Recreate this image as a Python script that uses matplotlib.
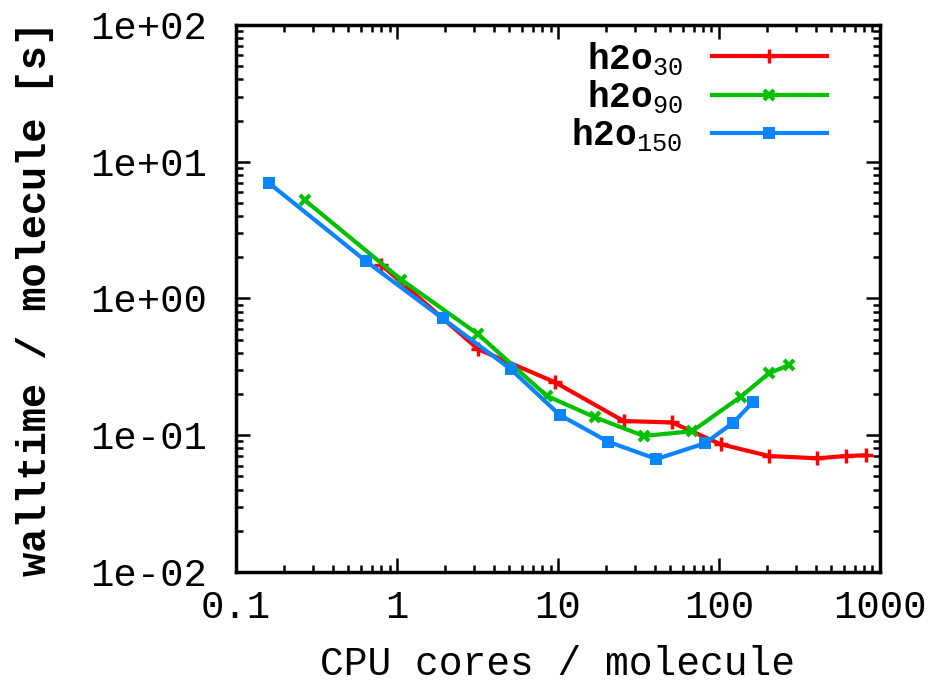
import matplotlib
matplotlib.use("Agg")
import matplotlib.pyplot as plt
from matplotlib.ticker import FixedLocator, FuncFormatter, LogLocator, NullFormatter

plt.rcParams['font.family'] = ['Liberation Mono', 'DejaVu Sans']
plt.rcParams['mathtext.fontset'] = 'custom'
plt.rcParams['mathtext.rm'] = 'Liberation Mono'
plt.rcParams['mathtext.bf'] = 'Liberation Mono:bold'

# CPU cores per molecule
x_30 = [0.8, 3.2, 9.6, 25.6, 51.2, 102.4, 204.8, 409.6, 614.4, 819.2]
x_90 = [0.267, 1.067, 3.2, 8.53, 17.07, 34.13, 68.27, 136.5, 204.8, 273.1]
x_150 = [0.16, 0.64, 1.92, 5.12, 10.24, 20.48, 40.96, 81.92, 122.88, 163.84]

# walltime per molecule [s]
t_30 = [1.76, 0.425, 0.244, 0.127, 0.124, 0.086, 0.0705, 0.0678, 0.0705, 0.0713]
t_90 = [5.25, 1.37, 0.547, 0.194, 0.135, 0.0988, 0.107, 0.191, 0.284, 0.326]
t_150 = [7.0, 1.88, 0.716, 0.303, 0.141, 0.0897, 0.067, 0.0873, 0.1236, 0.176]

x_ticks = [0.1, 1, 10, 100, 1000]
x_tick_labels = ['0.1', '1', '10', '100', '1000']
y_ticks = [0.01, 0.1, 1, 10, 100]
y_tick_labels = ['1e-02', '1e-01', '1e+00', '1e+01', '1e+02']

fig = plt.figure(figsize=(9.4, 6.85), dpi=100)
ax = fig.add_axes([0.251, 0.165, 0.685, 0.7985])

ax.plot(x_30, t_30, color='#ff0000', lw=3, marker='+', ms=10, mew=2.5,
        label=r'$\mathbf{h2o}_{\mathrm{30}}$')
ax.plot(x_90, t_90, color='#00c000', lw=3, marker='x', ms=7, mew=3,
        label=r'$\mathbf{h2o}_{\mathrm{90}}$')
ax.plot(x_150, t_150, color='#0a84ff', lw=3, marker='s', ms=8, mew=0,
        label=r'$\mathbf{h2o}_{\mathrm{150}}$')

ax.set_xscale('log')
ax.set_yscale('log')
ax.set_xlim(0.1, 1000)
ax.set_ylim(0.01, 100)

ax.xaxis.set_major_locator(FixedLocator(x_ticks))
ax.xaxis.set_major_formatter(FuncFormatter(lambda v, p: x_tick_labels[x_ticks.index(v)] if v in x_ticks else ''))
ax.yaxis.set_major_locator(FixedLocator(y_ticks))
ax.yaxis.set_major_formatter(FuncFormatter(lambda v, p: y_tick_labels[y_ticks.index(v)] if v in y_ticks else ''))
ax.xaxis.set_minor_locator(LogLocator(base=10, subs=range(2, 10), numticks=20))
ax.yaxis.set_minor_locator(LogLocator(base=10, subs=range(2, 10), numticks=20))
ax.xaxis.set_minor_formatter(NullFormatter())
ax.yaxis.set_minor_formatter(NullFormatter())

ax.tick_params(which='both', direction='in', top=True, right=True, width=1.8, colors='black')
ax.tick_params(which='major', length=10)
ax.tick_params(which='minor', length=5)
ax.tick_params(axis='x', which='major', labelsize=28, pad=13)
ax.tick_params(axis='y', which='major', labelsize=28, pad=21)
for sp in ax.spines.values():
    sp.set_linewidth(2.5)

ax.set_xlabel('CPU cores / molecule', fontsize=28.5, labelpad=14)
ax.set_ylabel('walltime / molecule [s]', fontsize=29, fontweight='bold', labelpad=26)

ax.legend(loc='upper right', frameon=False, markerfirst=False, fontsize=26,
          handlelength=3.2, labelspacing=0.03, borderaxespad=0.2,
          bbox_to_anchor=(0.952, 1.012), handletextpad=0.8)

fig.savefig('out.png', dpi=100)
